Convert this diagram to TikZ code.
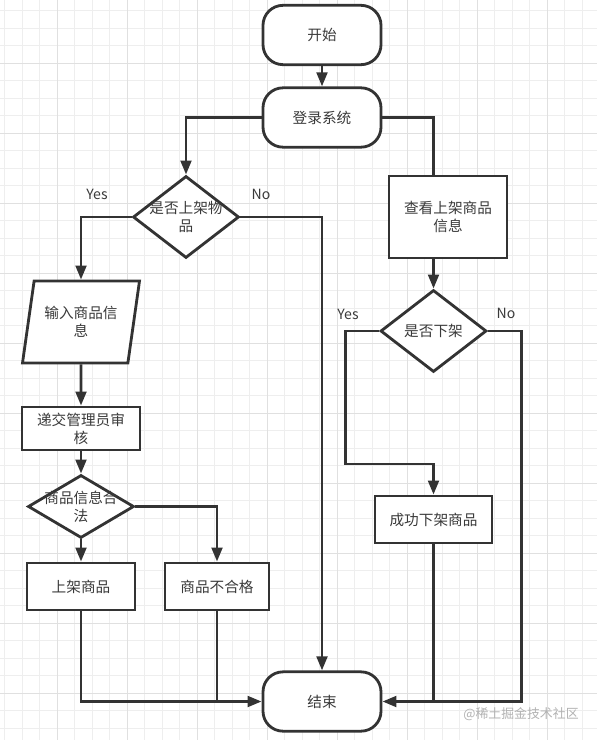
\documentclass[tikz,border=0pt]{standalone}
\usepackage{fontspec}
\setmainfont{Noto Sans CJK SC}
\usetikzlibrary{shapes.geometric,arrows.meta}
\definecolor{LineGray}{HTML}{333333}
\definecolor{TextGray}{HTML}{3A3A3A}
\definecolor{GridMinor}{HTML}{EEEEEE}
\definecolor{GridMajor}{HTML}{E0E0E0}

\begin{document}
\begin{tikzpicture}[x=0.03cm, y=-0.03cm]
                \tikzset{BaseStyle/.style= {draw = LineGray, line width = 2.4pt, fill = white, text = TextGray,
                           align = center, inner sep = 1pt, font = \fontsize{12.5pt}{15.5pt}\selectfont}}
                \tikzset{TermStyle/.style= {BaseStyle, rounded corners = 0.6cm, minimum width = 3.54cm, minimum height = 1.78cm}}
                \tikzset{BoxStyle/.style= {BaseStyle, rectangle}}
                \tikzset{DiaStyle/.style= {BaseStyle, diamond, inner sep = 0pt}}
                \tikzset{DiaText/.style= {text = TextGray, align = center, inner sep = 0pt, font = \fontsize{12.5pt}{15.5pt}\selectfont}}
                \tikzset{IoStyle/.style= {BaseStyle, trapezium, trapezium left angle = 71, trapezium right angle = 109,
                           trapezium stretches body, minimum width = 3.51cm, minimum height = 2.46cm}}
                \tikzset{LineStyle/.style= {draw = LineGray, line width = 2.4pt}}
                \tikzset{ArrowStyle/.style= {LineStyle, -{Triangle[length = 0.42cm, width = 0.32cm]}}}
                \tikzset{LabelStyle/.style= {text = TextGray, inner sep = 0pt, font = \fontsize{12pt}{14pt}\selectfont}}
                \tikzset{GridMinorStyle/.style= {draw = GridMinor, line width = 0.6pt}}
                \tikzset{GridMajorStyle/.style= {draw = GridMajor, line width = 0.8pt}}
                \useasboundingbox (0,0) rectangle (597,740);
                \fill[white] (0,0) rectangle (597,740);
                % background grid
                \foreach \i in {0,...,33} \draw[GridMinorStyle] (4.5+17.5*\i,0) -- (4.5+17.5*\i,740);
                \foreach \j in {0,...,41} \draw[GridMinorStyle] (0,10.5+17.5*\j) -- (597,10.5+17.5*\j);
                \foreach \i in {0,...,7} \draw[GridMajorStyle] (57+70*\i,0) -- (57+70*\i,740);
                \foreach \j in {0,...,9} \draw[GridMajorStyle] (0,63+70*\j) -- (597,63+70*\j);
                % nodes
                \node[TermStyle] (V1) at (322,35) {开始};
                \node[TermStyle] (V2) at (322,117.5) {登录系统};
                \node[DiaStyle, minimum width = 3.18cm, minimum height = 2.46cm,
                      label = {[DiaText]center:是否上架物\\品}] (V3) at (186,217) {};
                \node[BoxStyle, minimum width = 3.54cm, minimum height = 2.46cm] (V4) at (448,217) {查看上架商品\\信息};
                \node[DiaStyle, minimum width = 3.18cm, minimum height = 2.46cm,
                      label = {[DiaText]center:是否下架}] (V5) at (433.5,331) {};
                \node[IoStyle] (V6) at (81,322) {输入商品信\\息};
                \node[BoxStyle, minimum width = 3.54cm, minimum height = 1.29cm] (V7) at (81,428.5) {递交管理员审\\核};
                \node[DiaStyle, minimum width = 3.18cm, minimum height = 1.89cm,
                      label = {[DiaText]center:商品信息合\\法}] (V8) at (81,506.5) {};
                \node[BoxStyle, minimum width = 3.24cm, minimum height = 1.41cm] (V9) at (81,586.5) {上架商品};
                \node[BoxStyle, minimum width = 3.12cm, minimum height = 1.41cm] (V10) at (217,586.5) {商品不合格};
                \node[BoxStyle, minimum width = 3.51cm, minimum height = 1.41cm] (V11) at (433.5,519.5) {成功下架商品};
                \node[TermStyle] (V12) at (322,701.5) {结束};
                \coordinate (C1) at (345.5,464);
                \coordinate (C2) at (521.5,701.5);
                % labels
                \node[LabelStyle] (L1) at (97,194) {Yes};
                \node[LabelStyle] (L2) at (261,194) {No};
                \node[LabelStyle] (L3) at (348,314) {Yes};
                \node[LabelStyle] (L4) at (506,313) {No};
                \node[text = black!30, inner sep = 0pt, font = \fontsize{11pt}{13pt}\selectfont] (W) at (521,714) {@稀土掘金技术社区};
                % edges
                \draw[ArrowStyle] (V1) -- (V2);
                \draw[ArrowStyle] (V2.west) -| (V3.north);
                \draw[LineStyle] (V2.east) -| (V4.north -| V5.north);
                \draw[ArrowStyle] (V4.south -| V5.north) -- (V5.north);
                \draw[ArrowStyle] (V3.west) -| (V6.north);
                \draw[ArrowStyle] (V3.east) -| (V12.north);
                \draw[ArrowStyle] (V6.south) -- (V7.north);
                \draw[ArrowStyle] (V7.south) -- (V8.north);
                \draw[ArrowStyle] (V8.south) -- (V9.north);
                \draw[ArrowStyle] (V8.east) -| (V10.north);
                \draw[ArrowStyle] (V9.south) |- (V12.west);
                \draw[LineStyle] (V10.south) -- (V10.south |- V12.west);
                \draw[ArrowStyle] (V5.west) -| (C1) -| (V11.north);
                \draw[ArrowStyle] (V5.east) -| (C2) -- (V12.east);
                \draw[LineStyle] (V11.south) -- (V11.south |- V12.east);
            \end{tikzpicture}
\end{document}
